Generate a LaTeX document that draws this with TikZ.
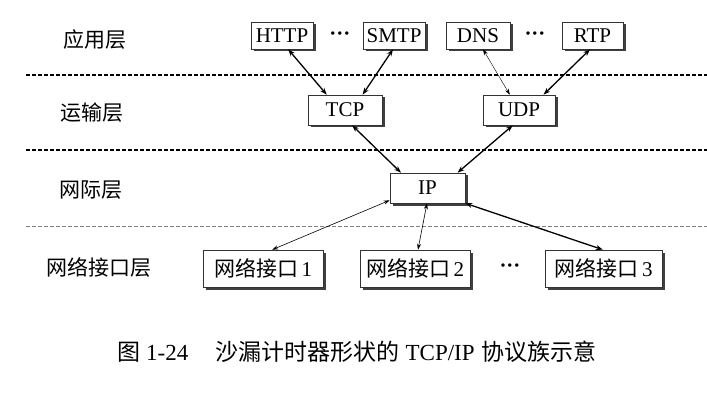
\documentclass[tikz,border=0pt]{standalone}
\usepackage{fontspec}
\setmainfont{Liberation Serif}
\newfontfamily\cjk{Noto Sans CJK SC}
\usetikzlibrary{shadows,arrows.meta}
\begin{document}
\begin{tikzpicture}[x=1pt,y=-1pt,
  proto/.style={draw=black!80, line width=0.6pt, fill=white, inner sep=0pt,
    font=\fontsize{21}{21}\selectfont,
    drop shadow={shadow xshift=2.5pt, shadow yshift=-2.5pt, fill=black!75, opacity=1}},
  layer/.style={font=\cjk\fontsize{21}{21}\selectfont},
  dots/.style={font=\fontsize{21}{21}\selectfont\bfseries},
  heavy/.style={line width=1.3pt, {Stealth[length=7pt,width=5pt]}-{Stealth[length=7pt,width=5pt]}},
  light/.style={line width=0.6pt, {Stealth[length=6pt,width=4pt]}-{Stealth[length=6pt,width=4pt]}},
  sep/.style={line width=1.6pt, dash pattern=on 4pt off 2pt},
  sepl/.style={line width=0.6pt, black!50, dash pattern=on 4pt off 2pt}]
\useasboundingbox (0,0) rectangle (707,401);
% separators
\draw[sep] (26,75) -- (707,75);
\draw[sep] (26,150) -- (707,150);
\draw[sepl] (26,226) -- (707,226);
% layer labels
\node[layer] (l1) at (95,40) {应用层};
\node[layer] (l2) at (92,113) {运输层};
\node[layer] (l3) at (91,190) {网际层};
\node[layer] (l4) at (99,267) {网络接口层};
% application
\node[proto, minimum width=62pt, minimum height=27pt] (http) at (282,35.5) {HTTP};
\node[dots] (d1) at (340,36) {···};
\node[proto, minimum width=62pt, minimum height=27pt] (smtp) at (394,35.5) {SMTP};
\node[proto, minimum width=64pt, minimum height=27pt] (dns) at (478,35.5) {DNS};
\node[dots] (d2) at (535,36) {···};
\node[proto, minimum width=61pt, minimum height=27pt] (rtp) at (592.5,35.5) {RTP};
% transport
\node[proto, minimum width=74pt, minimum height=30pt] (tcp) at (345,110) {TCP};
\node[proto, minimum width=72pt, minimum height=30pt] (udp) at (519,110) {UDP};
% internet
\node[proto, minimum width=75pt, minimum height=30pt] (ip) at (427.5,188) {IP};
% network interface
\node[proto, minimum width=120pt, minimum height=37pt] (n1) at (263,268.5) {{\cjk 网络接口}\,1};
\node[proto, minimum width=110pt, minimum height=37pt] (n2) at (415,268.5) {{\cjk 网络接口}\,2};
\node[dots] (d3) at (510,268) {···};
\node[proto, minimum width=117pt, minimum height=37pt] (n3) at (603.5,268.5) {{\cjk 网络接口}\,3};
% connectors
\draw[heavy] (http.-66) -- (tcp.140);
\draw[heavy] (smtp.-94) -- (tcp.41);
\draw[light, line width=0.4pt] (dns.-70) -- (udp.121);
\draw[heavy] (rtp.-100) -- (udp.32);
\draw[heavy] (tcp.-65) -- (ip.150);
\draw[heavy] (udp.-112) -- (ip.27);
\draw[light] (ip.-162) -- (n1.64);
\draw[light] (ip.-92) -- (n2.81);
\draw[heavy] (ip.-22) -- (n3.92);
% caption
\node[font=\fontsize{23}{23}\selectfont] (cap) at (357,352) {{\cjk 图}\hspace{0.25em}1-24\hspace{1.2em}{\cjk 沙漏计时器形状的}\hspace{0.25em}TCP/IP\hspace{0.3em}{\cjk 协议族示意}};
\end{tikzpicture}
\end{document}
